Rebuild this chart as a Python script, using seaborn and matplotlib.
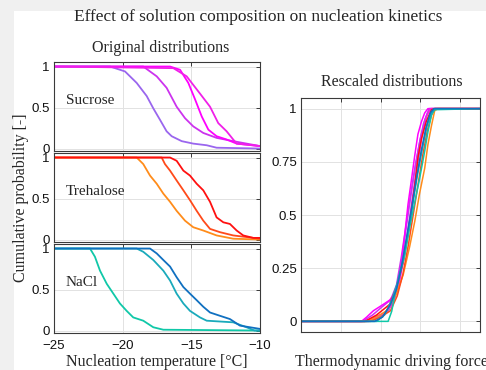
import matplotlib
matplotlib.use("Agg")
import matplotlib.pyplot as plt
import numpy as np
import pandas as pd
import seaborn as sns
from matplotlib.patches import Rectangle

# ---------------- data ----------------
series_names = ["Suc 1", "Suc 2", "Suc 3", "Suc 4",
                "Tre 1", "Tre 2", "Tre 3",
                "NaCl 1", "NaCl 2", "NaCl 3"]
series_colors = ["#9a66ee", "#cc33ee", "#ff00ff", "#f020e8",
                 "#ff8c1a", "#ff4a1a", "#ff1010",
                 "#10c8a8", "#1aaabb", "#1070c0"]
panel_of = ["Sucrose"] * 4 + ["Trehalose"] * 3 + ["NaCl"] * 3

# Original distributions: nucleation temperature [°C] vs cumulative probability
temp_x = {
    "Suc 1": [-25, -20.92, -19.83, -18.98, -18.25, -17.77, -17.28, -16.80, -16.43, -15.70, -14.86, -13.88, -13.16, -10],
    "Suc 2": [-25, -18.50, -17.52, -16.80, -16.07, -15.46, -14.86, -14.13, -13.16, -11.95, -10],
    "Suc 3": [-25, -16.55, -15.82, -15.22, -14.73, -14.24, -13.76, -13.16, -12.43, -11.70, -10],
    "Suc 4": [-25, -16.31, -15.34, -14.37, -13.64, -13.04, -12.43, -11.95, -11.70, -10],
    "Tre 1": [-25, -18.98, -18.50, -18.01, -17.52, -17.04, -16.55, -16.07, -15.46, -14.86, -14.13, -13.16, -11.95, -10],
    "Tre 2": [-25, -17.16, -16.92, -16.55, -16.07, -15.58, -15.10, -14.61, -14.13, -13.64, -12.92, -11.95, -10],
    "Tre 3": [-25, -16.55, -16.07, -15.58, -15.10, -14.61, -14.13, -13.64, -13.16, -12.67, -12.19, -11.70, -11.22, -10.49, -10],
    "NaCl 1": [-25, -22.38, -22.02, -21.65, -21.16, -20.68, -20.20, -19.71, -19.23, -18.50, -17.77, -17.04, -10],
    "NaCl 2": [-25, -18.98, -18.50, -17.77, -17.04, -16.55, -16.07, -15.58, -15.10, -14.37, -13.88, -11.95, -10.98, -10.40, -10],
    "NaCl 3": [-25, -18.01, -17.52, -17.04, -16.55, -16.07, -15.58, -15.10, -14.61, -14.13, -13.64, -12.92, -12.19, -11.46, -10],
}
temp_p = {
    "Suc 1": [1, 1, 0.94, 0.80, 0.64, 0.49, 0.35, 0.21, 0.15, 0.09, 0.06, 0.04, 0.01, 0.0],
    "Suc 2": [1, 1, 0.88, 0.74, 0.51, 0.37, 0.27, 0.19, 0.13, 0.09, 0.03],
    "Suc 3": [1, 1, 0.96, 0.80, 0.60, 0.39, 0.23, 0.15, 0.11, 0.06, 0.03],
    "Suc 4": [1, 0.98, 0.88, 0.67, 0.51, 0.31, 0.21, 0.11, 0.06, 0.03],
    "Tre 1": [1, 1, 0.92, 0.78, 0.68, 0.56, 0.46, 0.35, 0.23, 0.15, 0.11, 0.05, 0.01, 0.0],
    "Tre 2": [1, 1, 0.92, 0.84, 0.72, 0.60, 0.48, 0.35, 0.23, 0.13, 0.09, 0.05, 0.01],
    "Tre 3": [1, 1, 0.96, 0.84, 0.78, 0.68, 0.60, 0.46, 0.27, 0.21, 0.19, 0.11, 0.05, 0.02, 0.02],
    "NaCl 1": [1, 1, 0.90, 0.73, 0.57, 0.45, 0.33, 0.24, 0.16, 0.12, 0.04, 0.01, 0.0],
    "NaCl 2": [1, 1, 0.96, 0.86, 0.73, 0.61, 0.45, 0.33, 0.24, 0.16, 0.12, 0.10, 0.04, 0.0, 0.0],
    "NaCl 3": [1, 1, 0.94, 0.86, 0.78, 0.65, 0.53, 0.45, 0.37, 0.29, 0.22, 0.18, 0.14, 0.06, 0.02],
}

# Rescaled distributions: thermodynamic driving force vs cumulative probability
force_x = {
    "Suc 1": [0, 1.70, 1.95, 2.20, 2.35, 2.48, 2.60, 2.72, 2.85, 2.97, 3.08, 3.18, 3.28, 4.5],
    "Suc 2": [0, 1.55, 1.80, 2.05, 2.25, 2.40, 2.52, 2.64, 2.76, 2.88, 3.00, 3.12, 3.22, 4.5],
    "Suc 3": [0, 1.52, 1.65, 1.82, 2.07, 2.23, 2.36, 2.44, 2.53, 2.61, 2.69, 2.78, 2.86, 2.94, 3.03, 3.11, 3.19, 4.5],
    "Suc 4": [0, 1.60, 1.85, 2.10, 2.30, 2.45, 2.57, 2.68, 2.80, 2.92, 3.04, 3.15, 3.25, 4.5],
    "Tre 1": [0, 1.65, 1.90, 2.15, 2.40, 2.57, 2.73, 2.86, 2.98, 3.11, 3.19, 3.28, 3.36, 3.44, 4.5],
    "Tre 2": [0, 1.75, 2.00, 2.25, 2.42, 2.56, 2.70, 2.82, 2.94, 3.06, 3.18, 3.28, 3.36, 4.5],
    "Tre 3": [0, 1.61, 1.90, 2.23, 2.40, 2.57, 2.69, 2.78, 2.86, 2.94, 3.03, 3.15, 3.28, 3.36, 4.5],
    "NaCl 1": [0, 2.19, 2.28, 2.36, 2.48, 2.61, 2.73, 2.86, 2.98, 3.11, 3.19, 3.28, 3.36, 4.5],
    "NaCl 2": [0, 1.90, 2.10, 2.28, 2.42, 2.55, 2.68, 2.80, 2.92, 3.05, 3.17, 3.28, 3.38, 4.5],
    "NaCl 3": [0, 1.85, 2.05, 2.25, 2.40, 2.53, 2.66, 2.78, 2.90, 3.02, 3.14, 3.25, 3.34, 4.5],
}
force_p = {
    "Suc 1": [0, 0, 0.02, 0.05, 0.11, 0.22, 0.38, 0.54, 0.70, 0.83, 0.93, 0.98, 1, 1],
    "Suc 2": [0, 0, 0.03, 0.07, 0.10, 0.17, 0.30, 0.45, 0.60, 0.74, 0.86, 0.95, 1, 1],
    "Suc 3": [0, 0, 0.02, 0.05, 0.08, 0.10, 0.13, 0.19, 0.28, 0.41, 0.55, 0.67, 0.78, 0.88, 0.94, 0.98, 1, 1],
    "Suc 4": [0, 0, 0.02, 0.04, 0.08, 0.16, 0.28, 0.42, 0.58, 0.73, 0.87, 0.96, 1, 1],
    "Tre 1": [0, 0, 0.02, 0.05, 0.13, 0.22, 0.35, 0.47, 0.60, 0.72, 0.83, 0.92, 0.99, 1, 1],
    "Tre 2": [0, 0, 0.02, 0.05, 0.12, 0.22, 0.36, 0.50, 0.64, 0.78, 0.90, 0.97, 1, 1],
    "Tre 3": [0, 0, 0.03, 0.08, 0.16, 0.28, 0.41, 0.52, 0.64, 0.77, 0.86, 0.94, 0.995, 1, 1],
    "NaCl 1": [0, 0.0, 0.047, 0.125, 0.22, 0.31, 0.44, 0.56, 0.67, 0.80, 0.89, 0.97, 0.995, 1],
    "NaCl 2": [0, 0, 0.03, 0.10, 0.18, 0.28, 0.41, 0.54, 0.68, 0.81, 0.92, 0.98, 1, 1],
    "NaCl 3": [0, 0, 0.02, 0.08, 0.15, 0.26, 0.40, 0.53, 0.67, 0.80, 0.91, 0.98, 1, 1],
}

panels = ["Sucrose", "Trehalose", "NaCl"]
temp_ticks = [-25, -20, -15, -10]
temp_ticklabels = ["\u221225", "\u221220", "\u221215", "\u221210"]
prob_ticks = [0, 0.5, 1]
prob_ticklabels = ["0", "0.5", "1"]
force_ticks = [0, 1, 2, 3, 4]
res_ticks = [0, 0.25, 0.5, 0.75, 1]
res_ticklabels = ["0", "0.25", "0.5", "0.75", "1"]

# ---------------- tables ----------------
rows = []
for i, name in enumerate(series_names):
    for x, p in zip(temp_x[name], temp_p[name]):
        rows.append({"series": name, "panel": panel_of[i], "T": x, "P": p, "order": i})
orig = pd.DataFrame(rows)
rows = []
for i, name in enumerate(series_names):
    for x, p in zip(force_x[name], force_p[name]):
        rows.append({"series": name, "F": x, "P": p, "order": i})
resc = pd.DataFrame(rows)
palette = dict(zip(series_names, series_colors))

# ---------------- style ----------------
sns.set_style("white")
plt.rcParams['font.family'] = ['Liberation Sans', 'DejaVu Sans']
serif = ['Liberation Serif', 'DejaVu Serif']
edge = "#3a3a3a"
gridc = "#e2e2e2"

fig = plt.figure(figsize=(4.86, 3.70), dpi=100)
fig.patch.set_facecolor("#f0f0f0")
fig.add_artist(Rectangle((14 / 486, 0), 1 - 14 / 486, 1 - 11 / 370,
                         transform=fig.transFigure, facecolor="white",
                         edgecolor="none", zorder=0))


def style_axes(ax):
    for s in ax.spines.values():
        s.set_color(edge)
        s.set_linewidth(0.8)
    ax.grid(True, color=gridc, linewidth=0.7)
    ax.set_axisbelow(True)
    ax.tick_params(direction="in", length=3, width=0.7, color=edge,
                   top=True, right=True, labelsize=9.5, pad=3,
                   labelcolor="#111111")
    ax.tick_params(axis="x", pad=5)


W = 486.0
H = 370.0
left_axes = []
tops = [62, 153, 244]
for k, panel in enumerate(panels):
    top = tops[k]
    ax = fig.add_axes([54 / W, 1 - (top + 89) / H, 206 / W, 89 / H])
    sub = orig[orig.panel == panel]
    names = [n for n, p in zip(series_names, panel_of) if p == panel]
    sns.lineplot(data=sub, x="T", y="P", hue="series", hue_order=names,
                 palette=palette, units="series", estimator=None, sort=False,
                 legend=False, linewidth=1.3, ax=ax)
    ax.set_xlim(-25, -10)
    ax.set_ylim(-0.03, 1.055)
    ax.set_xticks(temp_ticks)
    ax.set_yticks(prob_ticks)
    ax.set_yticklabels(prob_ticklabels)
    if k == 2:
        ax.set_xticklabels(temp_ticklabels)
    else:
        ax.set_xticklabels([])
    ax.set_xlabel("")
    ax.set_ylabel("")
    style_axes(ax)
    ax.text(-24.15, 0.58, panel, fontsize=11, family=serif, va="center", ha="left")
    left_axes.append(ax)

axr = fig.add_axes([301 / W, 1 - 332 / H, 179 / W, 234 / H])
sns.lineplot(data=resc, x="F", y="P", hue="series", hue_order=series_names,
             palette=palette, units="series", estimator=None, sort=False,
             legend=False, linewidth=1.1, ax=axr)
axr.set_xlim(0, 4.5)
axr.set_ylim(-0.05, 1.05)
axr.set_xticks(force_ticks)
axr.set_xticklabels([])
axr.set_yticks(res_ticks)
axr.set_yticklabels(res_ticklabels)
axr.set_xlabel("")
axr.set_ylabel("")
style_axes(axr)

# ---------------- texts ----------------
fig.text(258 / W, 1 - 17 / H, "Effect of solution composition on nucleation kinetics",
         family=serif, fontsize=12.5, ha="center", va="center")
fig.text(161 / W, 1 - 48 / H, "Original distributions",
         family=serif, fontsize=11.5, ha="center", va="center")
fig.text(392 / W, 1 - 82 / H, "Rescaled distributions",
         family=serif, fontsize=11.5, ha="center", va="center")
fig.text(21 / W, 1 - 198 / H, "Cumulative probability [-]",
         family=serif, fontsize=11.5, ha="center", va="center", rotation=90)
fig.text(157 / W, 1 - 362 / H, "Nucleation temperature [\u00b0C]",
         family=serif, fontsize=11.5, ha="center", va="center")
fig.text(391 / W, 1 - 362 / H, "Thermodynamic driving force",
         family=serif, fontsize=11.5, ha="center", va="center")

fig.savefig("out.png", dpi=100, facecolor=fig.get_facecolor())
